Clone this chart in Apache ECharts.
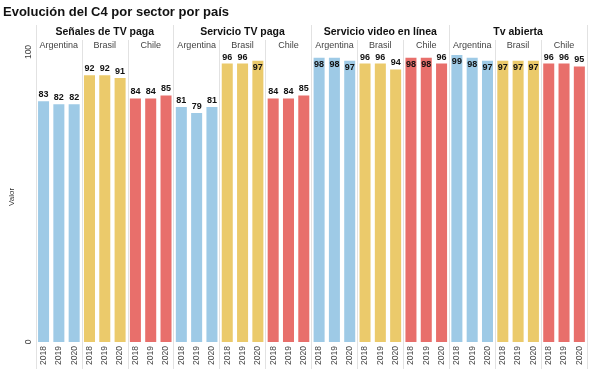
<!DOCTYPE html>
<html>
<head>
<meta charset="utf-8">
<script src="https://cdn.jsdelivr.net/npm/echarts@6/dist/echarts.min.js"></script>
<style>
html,body{margin:0;padding:0;background:#fff;}
#chart{width:589px;height:369px;}
</style>
</head>
<body>
<div id="chart"></div>
<script>
var title = 'Evolución del C4 por sector por país';
var sectors = ['Señales de TV paga', 'Servicio TV paga', 'Servicio video en línea', 'Tv abierta'];
var countries = ['Argentina', 'Brasil', 'Chile'];
var years = ['2018', '2019', '2020'];
var countryColors = ['#9ecae6', '#ebca6b', '#e86f6b'];
// values[sector][country][year]
var senalesTV = [[83, 82, 82], [92, 92, 91], [84, 84, 85]];
var servicioTV = [[81, 79, 81], [96, 96, 97], [84, 84, 85]];
var servicioVideo = [[98, 98, 97], [96, 96, 94], [98, 98, 96]];
var tvAbierta = [[99, 98, 97], [97, 97, 97], [96, 96, 95]];
var sectorValues = [senalesTV, servicioTV, servicioVideo, tvAbierta];
var yTicks = [0, 100];

var yearCats = [], countryCats = [], barData = [];
sectors.forEach(function (s, si) {
  countries.forEach(function (c, ci) {
    countryCats.push(c);
    years.forEach(function (y, yi) {
      yearCats.push(y);
      var v = sectorValues[si][ci][yi];
      barData.push({
        value: v,
        itemStyle: { color: countryColors[ci] },
        label: { position: v >= 97 ? 'insideTop' : 'top', distance: 2 }
      });
    });
  });
});

var chart = echarts.init(document.getElementById('chart'), null, { renderer: 'canvas' });
var lineColor = '#e2e2e2';
chart.setOption({
  animation: false,
  backgroundColor: '#ffffff',
  textStyle: { fontFamily: 'Liberation Sans, Arial, sans-serif' },
  title: {
    text: title, left: 3, top: 6, padding: 0,
    textStyle: { fontSize: 13, fontWeight: 'bold', color: '#111', fontFamily: 'Liberation Sans, Arial, sans-serif' }
  },
  grid: { left: 33, right: 2, top: 52, bottom: 27, containLabel: false },
  xAxis: [
    {
      type: 'category', data: yearCats, position: 'bottom', gridIndex: 0,
      axisLine: { show: false },
      axisTick: { show: true, length: 27, interval: function (i) { return i % 3 === 0; }, lineStyle: { color: lineColor } },
      axisLabel: { rotate: 90, fontSize: 8.5, color: '#444', margin: 4, interval: 0 },
      splitLine: { show: true, interval: function (i) { return i % 3 === 0; }, lineStyle: { color: lineColor, width: 1 } }
    },
    {
      type: 'category', data: countryCats, position: 'top', gridIndex: 0,
      axisLine: { show: false },
      axisTick: { show: true, length: 12, interval: 0, lineStyle: { color: lineColor } },
      axisLabel: { fontSize: 9, color: '#444', margin: 2, interval: 0 },
      splitLine: { show: false }
    },
    {
      type: 'category', data: sectors, position: 'top', gridIndex: 0,
      axisLine: { show: false },
      axisTick: { show: true, length: 27, interval: 0, lineStyle: { color: lineColor } },
      axisLabel: { fontSize: 10.5, fontWeight: 'bold', color: '#111', margin: 14, interval: 0 },
      splitLine: { show: false }
    }
  ],
  yAxis: {
    type: 'value', min: yTicks[0], max: yTicks[1], interval: 100,
    name: 'Valor', nameLocation: 'middle', nameRotate: 90, nameGap: 19,
    nameTextStyle: { fontSize: 8, color: '#333' },
    axisLine: { show: false }, axisTick: { show: false },
    axisLabel: { rotate: 90, fontSize: 8.5, color: '#444', margin: 3 },
    splitLine: { show: false }
  },
  series: [{
    type: 'bar', xAxisIndex: 0, data: barData,
    barCategoryGap: '28%',
    label: { show: true, fontSize: 9, fontWeight: 'bold', color: '#111' }
  }]
});
</script>
</body>
</html>
